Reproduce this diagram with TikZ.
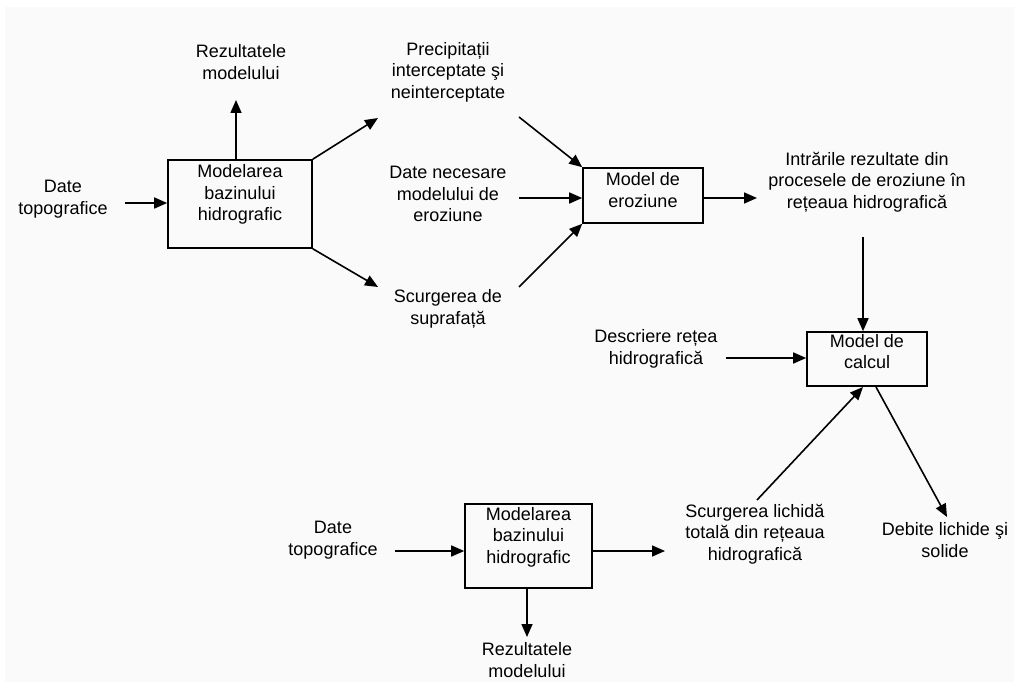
\documentclass[tikz,border=0pt]{standalone}
\usepackage{fontspec}
\setmainfont{Liberation Sans}
\usetikzlibrary{arrows.meta}

\definecolor{panelgray}{RGB}{250,250,250}

\tikzset{
	txt/.style={align=center, inner sep=0pt, font=\fontsize{18}{21.5}\selectfont},
	modbox/.style={txt, draw, line width=1.6pt},
	flow/.style={line width=1.6pt, -{Triangle[length=13pt,width=11pt]}},
}

\begin{document}
\begin{tikzpicture}[x=1pt,y=-1pt]

\useasboundingbox (0,0) rectangle (1014,682);
\fill [panelgray] (5,7) rectangle (1014,682);

% upper chain
\node [txt] (topo) at (63,199) {Date\\topografice};
\node [modbox, minimum width=144pt, minimum height=88pt, text depth=23pt] (modbaz) at (240,204) {Modelarea\\bazinului\\hidrografic};
\node [txt] (rezmod) at (241,62) {Rezultatele\\modelului};

\node [txt] (precip) at (448,72) {Precipitații\\interceptate şi\\neinterceptate};
\node [txt] (datener) at (448,194) {Date necesare\\modelului de\\eroziune};
\node [txt] (scurgsup) at (448,309) {Scurgerea de\\suprafață};

\node [modbox, minimum width=120pt, minimum height=55pt, text depth=11pt] (eroz) at (643,195.5) {Model de\\eroziune};
\node [txt] (intrari) at (867,182) {Intrările rezultate din\\procesele de eroziune în\\rețeaua hidrografică};

\coordinate (precipA) at (378,118);
\coordinate (scurgA) at (378,287);
\coordinate (precipB) at (519,117);
\coordinate (datenerB) at (519,198);
\coordinate (scurgB) at (519,287);
\coordinate (topoA) at (125,203);

\draw [flow] (topoA) -- (topoA -| modbaz.west);
\draw [flow] (modbaz.north -| 236,0) -- (236,100);
\draw [flow] (modbaz.north east) -- (precipA);
\draw [flow] (modbaz.south east) -- (scurgA);
\draw [flow] (precipB) -- (eroz.north west);
\draw [flow] (datenerB) -- (datenerB -| eroz.west);
\draw [flow] (scurgB) -- (eroz.south west);
\draw [flow] (eroz.east |- 0,198) -- (757,198);

% lower chain
\node [modbox, minimum width=120pt, minimum height=54pt, text depth=15pt] (calcul) at (867,359) {Model de\\calcul};
\node [txt] (descr) at (656,349) {Descriere rețea\\hidrografică};

\node [txt] (topob) at (333,540) {Date\\topografice};
\node [modbox, minimum width=127pt, minimum height=84pt, text depth=22pt] (modbazb) at (528.5,546) {Modelarea\\bazinului\\hidrografic};
\node [txt] (rezmodb) at (527,660) {Rezultatele\\modelului};
\node [txt] (scurglich) at (755,534) {Scurgerea lichidă\\totală din rețeaua\\hidrografică};
\node [txt] (debite) at (945,540) {Debite lichide şi\\solide};

\coordinate (intrariB) at (863,237);
\coordinate (descrB) at (726,358);
\coordinate (scurglichB) at (757,500);
\coordinate (debiteA) at (947,517);
\coordinate (topobB) at (395,551);
\coordinate (modbazbA) at (665,551);

\draw [flow] (intrariB) -- (intrariB |- calcul.north);
\draw [flow] (descrB) -- (descrB -| calcul.west);
\draw [flow] (scurglichB) -- (863,387);
\draw [flow] (876,387) -- (debiteA);
\draw [flow] (topobB) -- (topobB -| modbazb.west);
\draw [flow] (modbazb.east |- modbazbA) -- (modbazbA);
\draw [flow] (modbazb.south -| 527,0) -- (rezmodb.north |- 0,637);

\end{tikzpicture}
\end{document}
